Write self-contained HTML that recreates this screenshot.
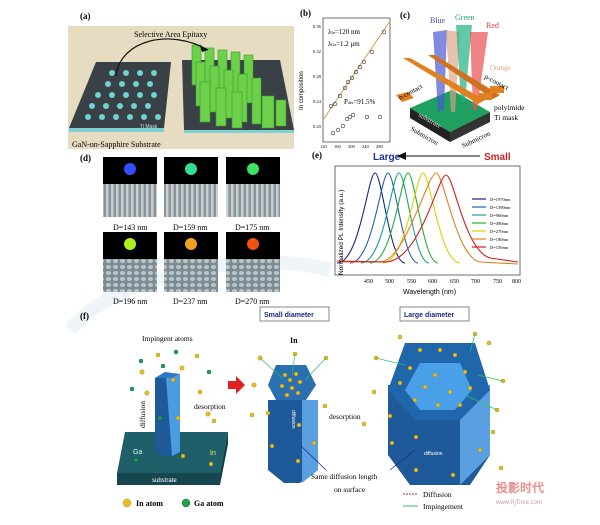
<!DOCTYPE html>
<html><head><meta charset="utf-8"><style>
html,body{margin:0;padding:0;background:#fff}
svg{display:block}
text{font-family:"Liberation Serif",serif}
.s{font-family:"Liberation Sans",sans-serif}
</style></head><body>
<svg width="600" height="525" viewBox="0 0 600 525" xmlns="http://www.w3.org/2000/svg">
<defs>
<pattern id="sem1" width="5" height="33" patternUnits="userSpaceOnUse"><rect width="5" height="33" fill="#8a9498"/><rect x="1" width="2.5" height="33" fill="#c8d0d4"/></pattern>
<pattern id="sem2" width="7" height="6" patternUnits="userSpaceOnUse"><rect width="7" height="6" fill="#7d8c92"/><ellipse cx="3.5" cy="3" rx="2.6" ry="2" fill="#b8c6cc"/></pattern>
</defs>
<!-- faint watermark -->
<path d="M70,330 C120,270 260,250 330,270" fill="none" stroke="#eef4f8" stroke-width="14"/>
<!-- (a) -->
<text x="80" y="19" font-size="9" font-weight="bold">(a)</text>
<rect x="68" y="26" width="226" height="123" fill="#e6dcc2"/>
<polygon points="96,62 171,62 164,128 69,128" fill="#3a4146"/>
<polygon points="69,128 164,128 164,132 69,132" fill="#7fd0d0"/>
<g fill="#6fd3cf">
<circle cx="112" cy="73" r="3"/><circle cx="126" cy="73" r="3"/><circle cx="140" cy="73" r="3"/><circle cx="154" cy="73" r="3"/>
<circle cx="108" cy="84" r="3"/><circle cx="122" cy="84" r="3"/><circle cx="136" cy="84" r="3"/><circle cx="150" cy="84" r="3"/>
<circle cx="98" cy="95" r="3"/><circle cx="112" cy="95" r="3"/><circle cx="126" cy="95" r="3"/><circle cx="140" cy="95" r="3"/><circle cx="154" cy="95" r="3"/>
<circle cx="92" cy="106" r="3"/><circle cx="106" cy="106" r="3"/><circle cx="120" cy="106" r="3"/><circle cx="134" cy="106" r="3"/><circle cx="148" cy="106" r="3"/>
<circle cx="88" cy="117" r="3"/><circle cx="102" cy="117" r="3"/><circle cx="116" cy="117" r="3"/><circle cx="130" cy="117" r="3"/><circle cx="144" cy="117" r="3"/><circle cx="158" cy="117" r="3"/>
</g>
<text x="140" y="128" font-size="5" fill="#cde" class="s">Ti Mask</text>
<polygon points="182,60 280,60 294,130 184,130" fill="#3a4146"/>
<polygon points="184,130 294,130 294,133 184,133" fill="#7fd0d0"/>
<g fill="#6cd04a" stroke="#3a9a2a" stroke-width="0.6">
<rect x="192" y="45" width="9" height="40"/><rect x="205" y="48" width="9" height="42"/><rect x="218" y="50" width="9" height="44"/><rect x="231" y="52" width="9" height="46"/><rect x="244" y="55" width="9" height="48"/>
<rect x="196" y="62" width="9" height="44"/><rect x="210" y="66" width="9" height="46"/><rect x="224" y="70" width="9" height="48"/><rect x="238" y="74" width="9" height="48"/><rect x="252" y="78" width="9" height="46"/>
<rect x="200" y="82" width="10" height="40"/><rect x="216" y="88" width="10" height="38"/><rect x="232" y="92" width="10" height="36"/><rect x="262" y="96" width="12" height="32"/><rect x="276" y="100" width="10" height="26"/>
</g>
<path d="M116,76 C120,40 170,28 208,50" fill="none" stroke="#111" stroke-width="1.2"/>
<polygon points="208,50 200,46 202,52" fill="#111"/>
<text x="134" y="37" font-size="8">Selective Area Epitaxy</text>
<text x="72" y="147" font-size="8">GaN-on-Sapphire Substrate</text>

<!-- (b) -->
<text x="300" y="16" font-size="9" font-weight="bold">(b)</text>
<rect x="323" y="18" width="67" height="124" fill="none" stroke="#333" stroke-width="0.7"/>
<line x1="323" y1="120" x2="390" y2="21" stroke="#d8a050" stroke-width="1"/>
<g fill="none" stroke="#333" stroke-width="0.6">
<circle cx="331" cy="106" r="1.8"/><circle cx="335" cy="104" r="1.8"/><circle cx="340" cy="96" r="1.8"/><circle cx="345" cy="88" r="1.8"/><circle cx="348" cy="82" r="1.8"/><circle cx="352" cy="78" r="1.8"/><circle cx="356" cy="72" r="1.8"/><circle cx="360" cy="67" r="1.8"/><circle cx="364" cy="62" r="1.8"/><circle cx="372" cy="52" r="1.8"/><circle cx="384" cy="32" r="1.8"/>
<circle cx="333" cy="133" r="1.8"/><circle cx="338" cy="130" r="1.8"/><circle cx="343" cy="126" r="1.8"/><circle cx="347" cy="119" r="1.8"/><circle cx="350" cy="117" r="1.8"/><circle cx="353" cy="115" r="1.8"/><circle cx="367" cy="117" r="1.8"/><circle cx="380" cy="117" r="1.8"/>
</g>
<g font-size="4.5" class="s"><text x="313" y="28">0.36</text><text x="313" y="53">0.32</text><text x="313" y="78">0.28</text><text x="313" y="103">0.24</text><text x="313" y="128">0.20</text>
<text x="320" y="148">120</text><text x="334" y="148">160</text><text x="348" y="148">200</text><text x="362" y="148">240</text><text x="376" y="148">280</text></g>
<text transform="translate(303,110) rotate(-90)" font-size="6" class="s">In composition</text>
<text x="328" y="34" font-size="7">λ<tspan font-size="4">In</tspan>=120 nm</text>
<text x="328" y="46" font-size="7">λ<tspan font-size="4">Ga</tspan>=1.2 μm</text>
<text x="344" y="104" font-size="7">P<tspan font-size="4">des</tspan>=91.5%</text>

<!-- (c) -->
<text x="400" y="18" font-size="9" font-weight="bold">(c)</text>
<text x="430" y="23" font-size="8" fill="#3050a0">Blue</text>
<text x="455" y="20" font-size="8" fill="#20a070">Green</text>
<text x="486" y="28" font-size="8" fill="#d04040">Red</text>
<polygon points="410,108 452,90 490,112 450,132" fill="#20a060"/>
<polygon points="410,108 450,132 450,142 410,118" fill="#222"/>
<polygon points="450,132 490,112 490,122 450,142" fill="#333"/>
<text transform="translate(418,116) rotate(30)" font-size="7" fill="#ddd">substrate</text>
<polygon points="433,32 447,30 444,110 438,112" fill="#4a58d0" opacity="0.7"/>
<polygon points="446,30 460,32 455,112 451,112" fill="#d8a080" opacity="0.65"/>
<polygon points="456,25 472,25 465,102 461,102" fill="#20b080" opacity="0.7"/>
<polygon points="470,32 488,32 477,110 473,110" fill="#e85050" opacity="0.7"/>
<polygon points="403,58 410,58 485,100 478,104" fill="#e08020"/>
<polygon points="428,55 435,55 500,95 493,99" fill="#d07020"/>
<polygon points="396,95 408,92 414,98 402,102" fill="#e08020"/>
<rect x="478" y="93" width="14" height="7" fill="#e08020"/><rect x="490" y="86" width="14" height="7" fill="#e08020"/>
<text x="490" y="70" font-size="7" fill="#e0a070">Orange</text>
<text transform="translate(484,78) rotate(28)" font-size="7">p-contact</text>
<text transform="translate(400,100) rotate(-28)" font-size="7">n-contact</text>
<text x="494" y="110" font-size="7.5">polyimide</text>
<text x="494" y="120" font-size="7.5">Ti mask</text>
<text transform="translate(410,130) rotate(30)" font-size="7">Submicron</text>
<text transform="translate(463,148) rotate(-25)" font-size="7">Submicron</text>

<!-- Large / Small -->
<text x="373" y="160" font-size="10" font-weight="bold" fill="#2030a0" class="s">Large</text>
<text x="484" y="160" font-size="10" font-weight="bold" fill="#d02020" class="s">Small</text>
<line x1="404" y1="156" x2="480" y2="156" stroke="#111" stroke-width="1"/>
<polygon points="397,156 406,152 406,160" fill="#111"/>

<!-- (d) -->
<text x="80" y="161" font-size="9" font-weight="bold">(d)</text>
<g>
<rect x="103" y="157" width="54" height="27" fill="#000"/><rect x="103" y="184" width="54" height="33" fill="url(#sem1)"/>
<rect x="164" y="157" width="54" height="27" fill="#000"/><rect x="164" y="184" width="54" height="33" fill="url(#sem1)"/>
<rect x="226" y="157" width="54" height="27" fill="#000"/><rect x="226" y="184" width="54" height="33" fill="url(#sem1)"/>
<rect x="103" y="232" width="54" height="27" fill="#000"/><rect x="103" y="259" width="54" height="33" fill="url(#sem2)"/>
<rect x="164" y="232" width="54" height="27" fill="#000"/><rect x="164" y="259" width="54" height="33" fill="url(#sem2)"/>
<rect x="226" y="232" width="54" height="27" fill="#000"/><rect x="226" y="259" width="54" height="33" fill="url(#sem2)"/>
<circle cx="130" cy="169" r="6" fill="#3050ff"/><circle cx="191" cy="169" r="6" fill="#30e090"/><circle cx="253" cy="169" r="6" fill="#40e060"/>
<circle cx="130" cy="244" r="6" fill="#b0f020"/><circle cx="191" cy="244" r="6" fill="#f0a020"/><circle cx="253" cy="244" r="6" fill="#f05010"/>
</g>
<g font-size="8"><text x="113" y="230">D=143 nm</text><text x="173" y="230">D=159 nm</text><text x="235" y="230">D=175 nm</text>
<text x="113" y="304">D=196 nm</text><text x="173" y="304">D=237 nm</text><text x="235" y="304">D=270 nm</text></g>

<!-- (e) -->
<text x="312" y="158" font-size="9" font-weight="bold">(e)</text>
<rect x="335" y="166" width="185" height="109" fill="#fff" stroke="#333" stroke-width="0.7"/>
<g fill="none" stroke-width="1.1">
<path d="M337,263 C360,263 368,173 375,173 C382,173 390,263 405,263" stroke="#1a237e"/>
<path d="M350,263 C373,263 381,173 388,173 C395,173 403,263 418,263" stroke="#2060b0"/>
<path d="M361,263 C384,263 392,173 399,173 C406,173 414,263 429,263" stroke="#10a090"/>
<path d="M370,263 C393,263 401,173 408,173 C415,173 423,263 438,263" stroke="#20b030"/>
<path d="M383,263 C406,263 416,173 423,173 C430,173 440,263 460,263" stroke="#e0d000"/>
<path d="M340,262 L380,262 C405,262 428,173 436,173 C444,173 456,258 480,262 L518,264" stroke="#e08020"/>
<path d="M337,261 L385,262 C420,262 438,175 446,175 C454,175 464,250 490,258 L518,262" stroke="#d02020"/>
</g>
<g font-size="4.5" class="s"><text x="490" y="201">D=1970nm</text><text x="490" y="209">D=1390nm</text><text x="490" y="217">D=960nm</text><text x="490" y="225">D=490nm</text><text x="490" y="233">D=270nm</text><text x="490" y="241">D=180nm</text><text x="490" y="249">D=150nm</text></g>
<g stroke-width="1.2"><line x1="472" y1="199" x2="486" y2="199" stroke="#1a237e"/><line x1="472" y1="207" x2="486" y2="207" stroke="#2060b0"/><line x1="472" y1="215" x2="486" y2="215" stroke="#10a090"/><line x1="472" y1="223" x2="486" y2="223" stroke="#20b030"/><line x1="472" y1="231" x2="486" y2="231" stroke="#e0d000"/><line x1="472" y1="239" x2="486" y2="239" stroke="#e08020"/><line x1="472" y1="247" x2="486" y2="247" stroke="#d02020"/></g>
<g font-size="6" class="s"><text x="364" y="283">450</text><text x="385" y="283">500</text><text x="407" y="283">550</text><text x="428" y="283">600</text><text x="450" y="283">650</text><text x="471" y="283">700</text><text x="493" y="283">750</text><text x="512" y="283">800</text></g>
<text x="403" y="294" font-size="7" class="s">Wavelength (nm)</text>
<text transform="translate(343,275) rotate(-90)" font-size="6.5" class="s">Normalized PL Intensity (a.u.)</text>

<!-- (f) -->
<text x="80" y="319" font-size="9" font-weight="bold">(f)</text>
<rect x="260" y="307" width="69" height="14" fill="#fff" stroke="#555" stroke-width="0.7"/>
<text x="264" y="317" font-size="7" font-weight="bold" fill="#1a2a80" class="s">Small diameter</text>
<rect x="400" y="307" width="69" height="14" fill="#fff" stroke="#555" stroke-width="0.7"/>
<text x="404" y="317" font-size="7" font-weight="bold" fill="#1a2a80" class="s">Large diameter</text>
<text x="142" y="341" font-size="7.5">Impingent atoms</text>
<polygon points="125,432 228,432 220,473 117,473" fill="#1f5f6a"/>
<polygon points="117,473 220,473 220,485 117,485" fill="#16474f"/>
<polygon points="220,473 228,432 228,444 220,485" fill="#123c44"/>
<text x="152" y="482" font-size="6" fill="#fff" class="s">substrate</text>
<text x="133" y="454" font-size="7" fill="#cfe" class="s">Ga</text>
<text x="210" y="455" font-size="7" fill="#ee6" class="s">In</text>
<polygon points="155,378 165,372 172,378 172,456 162,456 155,450" fill="#1e5a9a"/>
<polygon points="166,378 172,378 180,374 180,452 172,456" fill="#4a9be0"/>
<polygon points="155,378 165,372 180,374 172,378" fill="#2d78c0"/>
<text transform="translate(145,428) rotate(-90)" font-size="7.5">diffusion</text>
<text x="194" y="409" font-size="7.5">desorption</text>
<polygon points="228,381 236,381 236,376 245,385 236,394 236,389 228,389" fill="#e02020"/>
<polygon points="268,400 318,400 318,470 300,483 284,483 268,470" fill="#1e5a9a"/>
<polygon points="302,400 318,400 318,470 302,483" fill="#5aa0e0"/>
<polygon points="276,365 306,365 316,385 306,400 276,400 268,385" fill="#2a6fb0"/>
<text x="290" y="343" font-size="8" font-weight="bold">In</text>
<text transform="translate(292,410) rotate(90)" font-size="5" fill="#fff" class="s">diffusion</text>
<polygon points="388,385 490,385 490,455 470,485 410,485 388,455" fill="#1e5a9a"/>
<polygon points="460,385 490,385 490,455 460,485" fill="#5aa0e0"/>
<polygon points="405,343 475,343 490,390 460,420 415,420 388,390" fill="#1f66aa"/>
<polygon points="420,363 460,363 472,390 455,410 420,410 405,390" fill="#4aa0e8"/>
<text x="424" y="455" font-size="5" fill="#fff" class="s">diffusion</text>
<text x="329" y="419" font-size="7.5">desorption</text>
<text x="311" y="479" font-size="7.5">Same diffusion length</text>
<text x="334" y="492" font-size="7.5">on surface</text>
<line x1="301" y1="446" x2="326" y2="470" stroke="#1a2a90" stroke-width="0.8"/>
<line x1="415" y1="450" x2="390" y2="470" stroke="#1a2a90" stroke-width="0.8"/>
<g fill="#e8c020" stroke="#9a7a10" stroke-width="0.4">
<circle cx="158" cy="355" r="2"/><circle cx="197" cy="356" r="2"/><circle cx="142" cy="372" r="2.2"/><circle cx="182" cy="368" r="2.2"/><circle cx="147" cy="393" r="2.2"/><circle cx="200" cy="392" r="2"/><circle cx="173" cy="380" r="2"/><circle cx="178" cy="418" r="2"/><circle cx="208" cy="414" r="2.2"/><circle cx="214" cy="421" r="2"/><circle cx="183" cy="456" r="2"/><circle cx="211" cy="464" r="2"/>
<circle cx="260" cy="358" r="2.2"/><circle cx="295" cy="354" r="2"/><circle cx="326" cy="358" r="2"/><circle cx="254" cy="385" r="2.2"/><circle cx="325" cy="406" r="2"/><circle cx="252" cy="415" r="2"/><circle cx="268" cy="413" r="2"/><circle cx="299" cy="425" r="2"/><circle cx="314" cy="443" r="2"/><circle cx="272" cy="446" r="2"/><circle cx="298" cy="461" r="2"/>
<circle cx="285" cy="375" r="2"/><circle cx="290" cy="380" r="2"/><circle cx="296" cy="374" r="2"/><circle cx="300" cy="382" r="2"/><circle cx="282" cy="386" r="2"/><circle cx="292" cy="388" r="2"/><circle cx="298" cy="393" r="2"/><circle cx="287" cy="395" r="2"/>
<circle cx="400" cy="337" r="2"/><circle cx="475" cy="334" r="2"/><circle cx="489" cy="343" r="2"/><circle cx="376" cy="358" r="2"/><circle cx="503" cy="381" r="2"/><circle cx="374" cy="392" r="2"/><circle cx="497" cy="410" r="2"/><circle cx="493" cy="432" r="2"/><circle cx="364" cy="424" r="2"/><circle cx="390" cy="416" r="2"/><circle cx="392" cy="443" r="2"/><circle cx="416" cy="437" r="2"/><circle cx="480" cy="450" r="2"/><circle cx="501" cy="468" r="2"/><circle cx="416" cy="470" r="2"/><circle cx="453" cy="475" r="2"/>
<circle cx="420" cy="350" r="2"/><circle cx="440" cy="350" r="2"/><circle cx="455" cy="355" r="2"/><circle cx="410" cy="368" r="2"/><circle cx="435" cy="375" r="2"/><circle cx="465" cy="372" r="2"/><circle cx="400" cy="383" r="2"/><circle cx="425" cy="387" r="2"/><circle cx="450" cy="392" r="2"/><circle cx="470" cy="388" r="2"/><circle cx="415" cy="400" r="2"/><circle cx="438" cy="405" r="2"/><circle cx="460" cy="405" r="2"/>
<circle cx="127" cy="503" r="4"/>
</g>
<g fill="#20a050" stroke="#106030" stroke-width="0.4">
<circle cx="176" cy="352" r="2"/><circle cx="141" cy="361" r="2"/><circle cx="163" cy="366" r="2"/><circle cx="209" cy="372" r="2"/><circle cx="132" cy="389" r="2"/><circle cx="160" cy="418" r="2"/><circle cx="136" cy="460" r="2"/>
<circle cx="186" cy="503" r="4"/>
</g>
<g stroke="#30c060" stroke-width="0.7"><line x1="295" y1="354" x2="292" y2="375"/><line x1="326" y1="358" x2="305" y2="380"/><line x1="260" y1="358" x2="282" y2="378"/><line x1="475" y1="334" x2="470" y2="352"/><line x1="376" y1="358" x2="405" y2="365"/><line x1="503" y1="381" x2="478" y2="375"/><line x1="497" y1="410" x2="465" y2="395"/></g>
<text x="136" y="506" font-size="8" font-weight="bold">In atom</text>
<text x="194" y="506" font-size="8" font-weight="bold">Ga atom</text>
<line x1="403" y1="494" x2="418" y2="494" stroke="#c02020" stroke-width="1" stroke-dasharray="2,1"/>
<line x1="403" y1="506" x2="418" y2="506" stroke="#30c060" stroke-width="1"/>
<text x="423" y="497" font-size="7.5">Diffusion</text>
<text x="423" y="509" font-size="7.5">Impingement</text>
<text x="496" y="492" font-size="12" font-weight="bold" fill="#e89090" font-family="Noto Sans CJK SC, sans-serif">投影时代</text>
<text x="496" y="504" font-size="6" fill="#c0a0a0" class="s">www.PjTime.com</text>
</svg>
</body></html>
